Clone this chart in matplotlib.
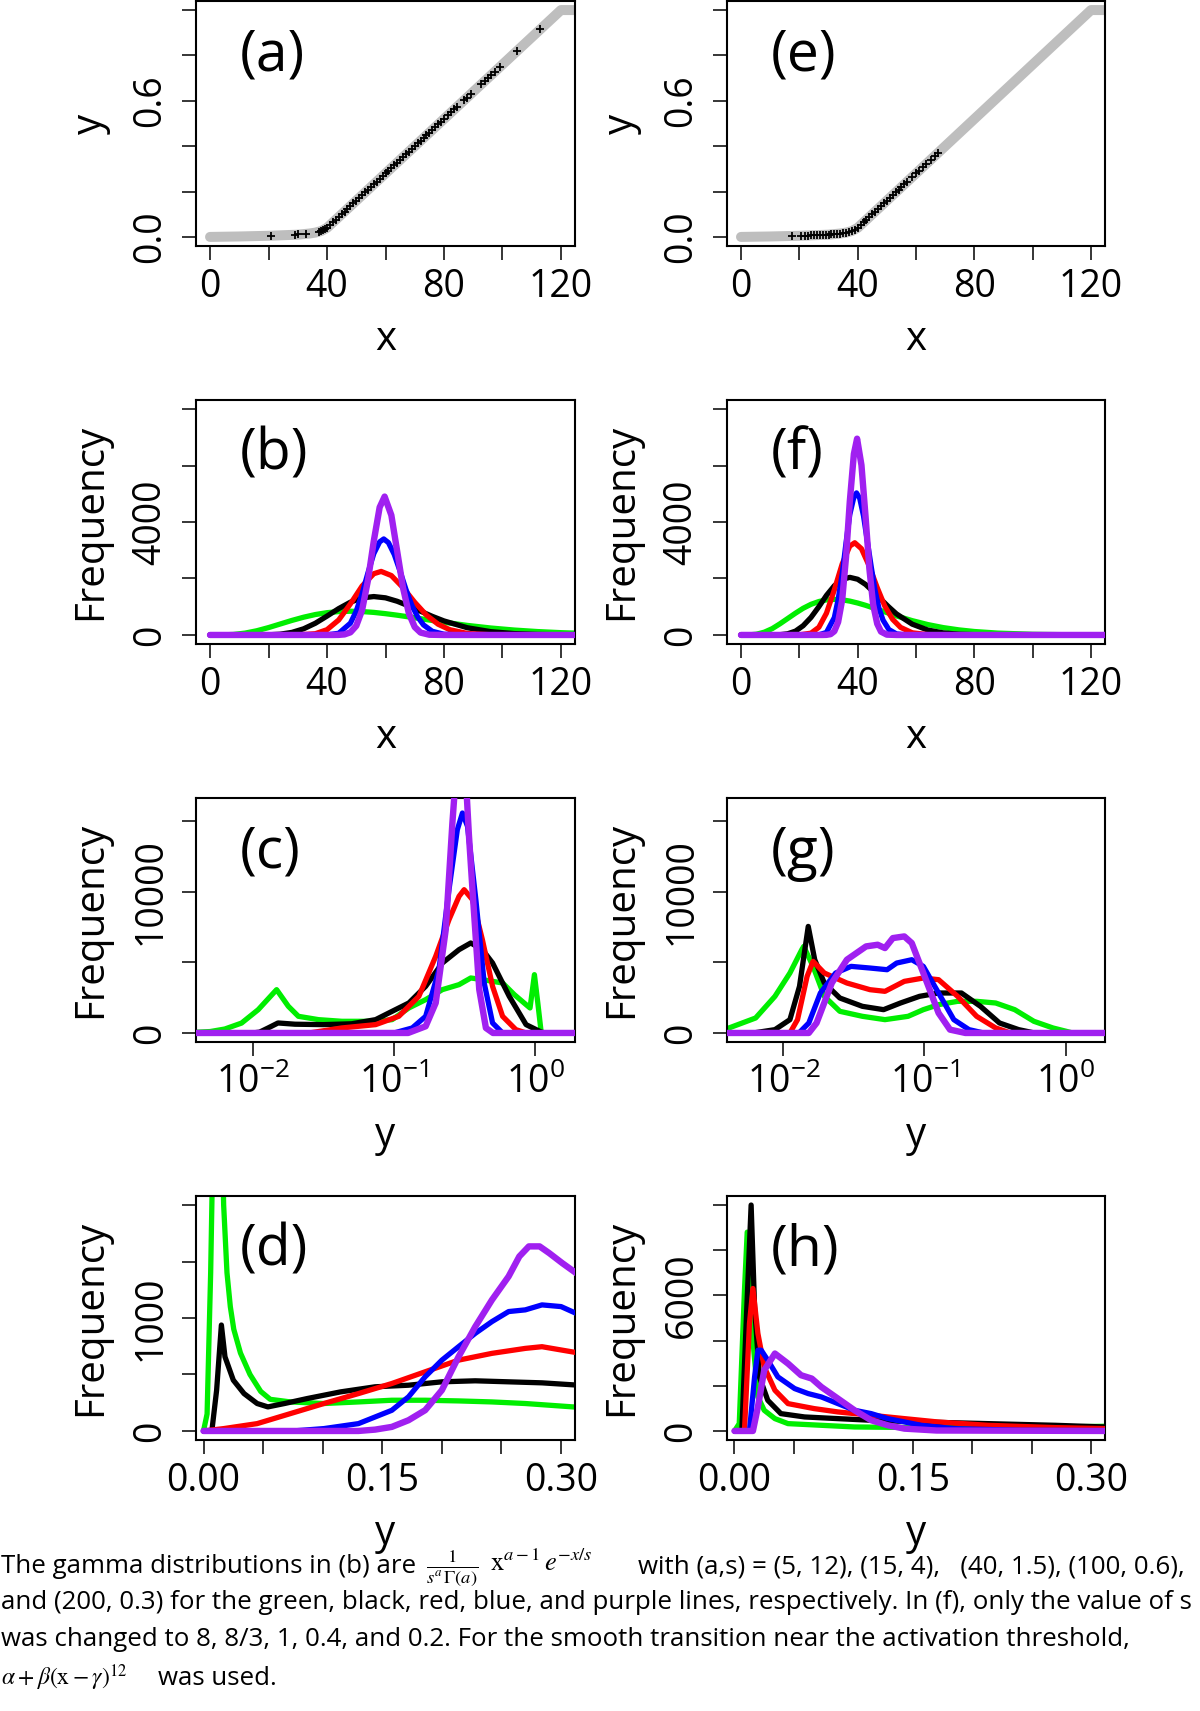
import numpy as np
import matplotlib
matplotlib.use("Agg")
import matplotlib.pyplot as plt
from matplotlib.ticker import FixedLocator, NullLocator

plt.rcParams['font.family'] = ['Open Sans', 'DejaVu Sans']
plt.rcParams['mathtext.fontset'] = 'custom'
plt.rcParams['mathtext.rm'] = 'Open Sans'
plt.rcParams['mathtext.it'] = 'Open Sans:italic'
plt.rcParams['mathtext.bf'] = 'Open Sans:bold'

# ---------------- data ----------------
series_names = ['green', 'black', 'red', 'blue', 'purple']
series_colors = ['#00EE00', '#000000', '#FF0000', '#0000FF', '#A020F0']

# activation function (panels a, e)
act_x = [0, 10, 20, 30, 34, 36, 38, 40, 42, 50, 60, 70, 80, 90, 100, 110, 120, 127]
act_y = [0.000, 0.002, 0.005, 0.010, 0.015, 0.019, 0.026, 0.040, 0.064, 0.160, 0.280,
         0.400, 0.520, 0.640, 0.760, 0.880, 1.000, 1.000]

a_pts_x = [21, 28.9, 30.2, 32.9, 37.2, 37.8, 38.5, 39.2,
           40, 41, 42, 43, 44, 45, 46, 47, 48, 49, 50, 51, 52, 53, 54, 55, 56, 57, 58, 59, 60,
           61, 62, 63, 64, 65, 66, 67, 68, 69, 70, 71, 72, 73, 74, 75, 76, 77, 78, 79, 80,
           81.5, 82.5, 83.5, 84.5, 86.8, 87.8, 89.2, 92.8, 94, 95, 96.2, 97.4, 99, 105, 113]
a_pts_y = [0.006, 0.010, 0.011, 0.014, 0.023, 0.025, 0.029, 0.034,
           0.040, 0.052, 0.064, 0.076, 0.088, 0.100, 0.112, 0.124, 0.136, 0.148, 0.160, 0.172,
           0.184, 0.196, 0.208, 0.220, 0.232, 0.244, 0.256, 0.268, 0.280,
           0.292, 0.304, 0.316, 0.328, 0.340, 0.352, 0.364, 0.376, 0.388, 0.400, 0.412, 0.424,
           0.436, 0.448, 0.460, 0.472, 0.484, 0.496, 0.508, 0.520,
           0.538, 0.550, 0.562, 0.574, 0.602, 0.614, 0.630, 0.674, 0.688, 0.700, 0.714, 0.729,
           0.748, 0.820, 0.916]

e_pts_x = [17.5, 20.5, 22, 23, 24, 25, 26, 27, 28, 29, 30, 31, 32, 33, 34, 35, 36, 37, 38, 39,
           40, 41, 42, 43, 44, 45, 46, 47, 48, 49, 50, 51, 52, 53, 54, 55,
           56, 57, 58.5, 60, 61, 62.5, 63.5, 65, 66.5, 67.5]
e_pts_y = [0.004, 0.005, 0.006, 0.006, 0.007, 0.007, 0.008, 0.008, 0.009, 0.009, 0.010, 0.011,
           0.012, 0.013, 0.015, 0.017, 0.019, 0.022, 0.026, 0.032,
           0.040, 0.052, 0.064, 0.076, 0.088, 0.100, 0.112, 0.124, 0.136, 0.148, 0.160, 0.172,
           0.184, 0.196, 0.208, 0.220,
           0.232, 0.244, 0.262, 0.280, 0.292, 0.310, 0.322, 0.340, 0.358, 0.370]

# panel (b): frequency vs x
b_green_x = [0, 4, 8, 12, 16, 20, 24, 28, 32, 36, 40, 44, 48, 52, 56, 60, 64, 68, 72, 80, 88, 96, 104, 112, 120, 127]
b_green_f = [0, 2, 18, 66, 149, 261, 388, 515, 629, 723, 789, 828, 840, 829, 799, 754, 700, 639, 576, 450, 338, 246, 174, 120, 81, 58]
b_black_x = [0, 12, 16, 20, 24, 28, 32, 36, 40, 44, 48, 52, 56, 60, 64, 68, 72, 76, 80, 88, 96, 104, 112, 120, 127]
b_black_f = [0, 0, 1, 6, 28, 91, 218, 414, 668, 934, 1161, 1311, 1360, 1315, 1193, 1026, 840, 659, 497, 255, 117, 49, 18, 7, 3]
b_red_x = [0, 26, 30, 36, 40, 44, 48, 52, 56, 58.5, 62, 66, 70, 74, 78, 82, 88, 96, 104, 127]
b_red_f = [0, 0, 2, 44, 187, 531, 1101, 1733, 2169, 2250, 2104, 1676, 1155, 703, 380, 185, 53, 8, 1, 0]
b_blue_x = [0, 36, 40, 44, 48, 50, 52, 54, 56, 58, 59.4, 61, 63, 65, 67, 69, 71, 73, 76, 80, 85, 127]
b_blue_f = [0, 0, 4, 60, 417, 847, 1460, 2200, 2880, 3296, 3400, 3270, 2849, 2250, 1611, 1055, 639, 355, 130, 26, 3, 0]
b_purple_x = [0, 42, 44, 46, 48, 50, 52, 54, 56, 58, 59.7, 62, 64, 66, 68, 70, 72, 75, 80, 127]
b_purple_f = [0, 0, 3, 20, 93, 323, 882, 1935, 3330, 4520, 4900, 4240, 2960, 1665, 760, 280, 83, 8, 0, 0]

# panel (f)
f_green_x = [0, 2.7, 5.3, 8, 10.7, 13.3, 16, 18.7, 21.3, 24, 26.7, 29.3, 32, 34.7, 37.3, 40, 42.7, 45.3, 48, 53.3, 58.7, 64, 69.3, 74.7, 80, 88, 100, 112, 127]
f_green_f = [0, 3, 27, 99, 224, 392, 582, 773, 944, 1085, 1184, 1242, 1260, 1244, 1199, 1131, 1050, 959, 864, 675, 507, 369, 261, 180, 122, 66, 24, 8, 2]
f_black_x = [0, 8, 13.3, 16, 18.7, 21.3, 24, 26.7, 29.3, 32, 34.7, 37.3, 40, 42.7, 45.3, 48, 50.7, 53.3, 58.7, 64, 69.3, 74.7, 80, 90, 127]
f_black_f = [0, 0, 9, 42, 137, 327, 621, 1002, 1401, 1742, 1967, 2040, 1973, 1790, 1539, 1260, 989, 746, 383, 176, 74, 27, 11, 2, 0]
f_red_x = [0, 20, 24, 26.7, 29.3, 32, 34.7, 37.3, 39, 41.3, 44, 46.7, 49.3, 52, 54.7, 58.7, 64, 69.3, 127]
f_red_f = [0, 3, 64, 272, 771, 1598, 2516, 3149, 3265, 3054, 2433, 1677, 1021, 552, 269, 77, 12, 2, 0]
f_blue_x = [0, 24, 26.7, 29.3, 32, 33.3, 34.7, 36, 37.3, 38.7, 39.6, 40.7, 42, 43.3, 44.7, 46, 47.3, 48.7, 50.7, 53.3, 56.7, 127]
f_blue_f = [0, 0, 6, 89, 617, 1254, 2161, 3256, 4262, 4878, 5030, 4840, 4217, 3330, 2384, 1561, 946, 525, 192, 38, 4, 0]
f_purple_x = [0, 28, 29.3, 30.7, 32, 33.3, 34.7, 36, 37.3, 38.7, 39.8, 41.3, 42.7, 44, 45.3, 46.7, 48, 50, 53.3, 127]
f_purple_f = [0, 0, 4, 28, 132, 458, 1251, 2744, 4722, 6410, 6950, 6013, 4198, 2361, 1078, 397, 118, 11, 0, 0]

# panel (c): log10(y) positions and frequencies
c_green_lx = [-2.45, -2.30, -2.196, -2.078, -1.96, -1.83, -1.747, -1.676, -1.534, -1.368, -1.131, -1.013, -0.895, -0.776, -0.658, -0.54, -0.457, -0.375, -0.232, -0.149, -0.066, -0.038, -0.007, 0.017, 0.04, 0.06, 0.30]
c_green_f = [30, 100, 280, 700, 1650, 3068, 1888, 1180, 944, 826, 826, 944, 1770, 2360, 3068, 3422, 3894, 3776, 3540, 2714, 2006, 1770, 4130, 2124, 118, 0, 0]
c_black_lx = [-2.45, -2.0, -1.95, -1.89, -1.82, -1.70, -1.5, -1.3, -1.13, -1.013, -0.895, -0.776, -0.658, -0.54, -0.457, -0.375, -0.303, -0.185, -0.066, 0.03, 0.06, 0.30]
c_black_f = [0, 0, 60, 354, 708, 620, 590, 650, 944, 1534, 2124, 3304, 4956, 5900, 6372, 5900, 4956, 2596, 590, 118, 0, 0]
c_red_lx = [-2.45, -1.6, -1.37, -1.13, -0.966, -0.824, -0.705, -0.611, -0.54, -0.504, -0.445, -0.375, -0.303, -0.232, -0.138, -0.066, 0.30]
c_red_f = [0, 0, 354, 590, 1180, 2596, 5428, 8024, 9676, 10148, 9440, 6608, 3304, 1180, 236, 0, 0]
c_blue_lx = [-2.45, -1.0, -0.871, -0.776, -0.682, -0.611, -0.552, -0.516, -0.48, -0.421, -0.362, -0.303, -0.232, 0.30]
c_blue_f = [0, 0, 354, 1180, 4484, 10148, 14396, 15576, 14632, 9440, 3540, 708, 0, 0]
c_purple_lx = [-2.45, -0.9, -0.776, -0.705, -0.634, -0.587, -0.55, -0.528, -0.50, -0.47, -0.445, -0.397, -0.35, -0.30, 0.30]
c_purple_f = [0, 0, 472, 2124, 7316, 14868, 20000, 22000, 19500, 14000, 10148, 3068, 354, 0, 0]

# panel (g)
g_green_lx = [-2.45, -2.386, -2.197, -2.06, -1.954, -1.87, -1.856, -1.79, -1.71, -1.60, -1.44, -1.28, -1.116, -1.008, -0.9, -0.765, -0.63, -0.495, -0.36, -0.224, -0.089, 0.005, 0.05, 0.30]
g_green_f = [300, 354, 1061, 2594, 4244, 5895, 6130, 4716, 2594, 1533, 1179, 943, 1179, 1650, 2004, 2240, 2240, 2122, 1650, 825, 354, 118, 0, 0]
g_black_lx = [-2.45, -2.2, -2.06, -1.954, -1.886, -1.824, -1.778, -1.71, -1.60, -1.44, -1.29, -1.17, -1.035, -0.9, -0.738, -0.603, -0.468, -0.332, -0.22, 0.30]
g_black_f = [0, 20, 236, 943, 3301, 7546, 5188, 3537, 2476, 1886, 1650, 2122, 2594, 2830, 2830, 1886, 707, 236, 0, 0]
g_red_lx = [-2.45, -1.954, -1.9, -1.832, -1.79, -1.71, -1.55, -1.386, -1.28, -1.143, -1.008, -0.9, -0.765, -0.63, -0.495, -0.39, 0.30]
g_red_f = [0, 0, 943, 4009, 5070, 4244, 3537, 3065, 2948, 3655, 3891, 3773, 2594, 1179, 354, 0, 0]
g_blue_lx = [-2.45, -1.89, -1.82, -1.738, -1.63, -1.52, -1.386, -1.265, -1.197, -1.09, -1.008, -0.9, -0.792, -0.684, -0.58, 0.30]
g_blue_f = [0, 0, 707, 2830, 4244, 4716, 4598, 4480, 4952, 5188, 4716, 2830, 943, 236, 0, 0]
g_purple_lx = [-2.45, -1.82, -1.765, -1.657, -1.55, -1.414, -1.332, -1.28, -1.224, -1.143, -1.09, -1.008, -0.9, -0.819, -0.71, 0.30]
g_purple_f = [0, 0, 707, 3537, 5188, 6130, 6248, 6012, 6720, 6838, 6366, 4244, 1415, 236, 0, 0]

# panel (d): frequency vs y (linear)
d_green_y = [0, 0.003, 0.006, 0.008, 0.010, 0.012, 0.014, 0.0169, 0.0197, 0.0225, 0.0254, 0.031, 0.039, 0.048, 0.056, 0.073, 0.101, 0.13, 0.158, 0.186, 0.214, 0.242, 0.27, 0.31, 0.315]
d_green_f = [0, 150, 1400, 2600, 3600, 4000, 3500, 2000, 1400, 1100, 900, 690, 500, 350, 280, 257, 243, 257, 272, 272, 266, 257, 243, 213, 210]
d_black_y = [0, 0.007, 0.011, 0.015, 0.018, 0.025, 0.034, 0.045, 0.054, 0.068, 0.087, 0.115, 0.144, 0.172, 0.2, 0.228, 0.256, 0.284, 0.315]
d_black_f = [0, 0, 361, 938, 657, 450, 331, 243, 213, 243, 287, 346, 391, 405, 435, 444, 435, 426, 405]
d_red_y = [0, 0.017, 0.045, 0.073, 0.101, 0.13, 0.158, 0.186, 0.214, 0.242, 0.27, 0.284, 0.315]
d_red_f = [0, 21, 65, 154, 243, 331, 420, 524, 627, 687, 731, 746, 690]
d_blue_y = [0, 0.075, 0.101, 0.13, 0.158, 0.172, 0.186, 0.2, 0.214, 0.228, 0.242, 0.256, 0.27, 0.284, 0.3, 0.315]
d_blue_f = [0, 0, 21, 65, 183, 302, 480, 627, 746, 864, 968, 1057, 1072, 1116, 1101, 1030]
d_purple_y = [0, 0.13, 0.144, 0.158, 0.172, 0.186, 0.2, 0.214, 0.228, 0.242, 0.256, 0.265, 0.273, 0.282, 0.29, 0.301, 0.315]
d_purple_f = [0, 0, 12, 36, 95, 184, 361, 657, 923, 1160, 1368, 1545, 1634, 1634, 1575, 1486, 1380]

# panel (h)
h_green_y = [0, 0.004, 0.0084, 0.0107, 0.0155, 0.0197, 0.025, 0.034, 0.045, 0.073, 0.101, 0.157, 0.213, 0.27, 0.315]
h_green_f = [0, 325, 6233, 8800, 4017, 1506, 916, 546, 325, 251, 177, 148, 148, 177, 210]
h_black_y = [0, 0.0062, 0.0098, 0.014, 0.0169, 0.021, 0.028, 0.039, 0.059, 0.087, 0.115, 0.157, 0.213, 0.27, 0.315]
h_black_f = [0, 0, 4756, 10000, 5494, 2393, 1359, 768, 620, 546, 473, 399, 325, 251, 170]
h_red_y = [0, 0.0084, 0.0126, 0.0155, 0.0197, 0.025, 0.034, 0.045, 0.067, 0.087, 0.115, 0.143, 0.171, 0.213, 0.27, 0.315]
h_red_f = [0, 0, 4756, 6307, 4313, 2836, 1802, 1211, 990, 842, 694, 546, 399, 251, 148, 100]
h_blue_y = [0, 0.0126, 0.0169, 0.0197, 0.0225, 0.028, 0.0365, 0.0506, 0.062, 0.073, 0.087, 0.101, 0.115, 0.129, 0.157, 0.185, 0.24, 0.315]
h_blue_f = [0, 0, 2393, 3574, 3574, 3131, 2393, 1876, 1654, 1507, 1211, 916, 768, 546, 251, 103, 30, 15]
h_purple_y = [0, 0.0155, 0.0197, 0.025, 0.034, 0.045, 0.056, 0.065, 0.073, 0.087, 0.101, 0.115, 0.129, 0.143, 0.17, 0.315]
h_purple_f = [0, 0, 1063, 2688, 3427, 2984, 2467, 2319, 1950, 1433, 916, 473, 251, 103, 20, 0]

# tick labels
x_ticks_lin = [0, 20, 40, 60, 80, 100, 120]
x_labels_lin = ['0', '', '40', '', '80', '', '120']
y_ticks_a = [0, 0.2, 0.4, 0.6, 0.8, 1.0]
y_labels_a = ['0.0', '', '', '0.6', '', '']
y_ticks_b = [0, 2000, 4000, 6000, 8000]
y_labels_b = ['0', '', '4000', '', '']
x_ticks_log = [0.01, 0.1, 1.0]
x_labels_log = [r'$10^{-2}$', r'$10^{-1}$', r'$10^{0}$']
y_ticks_c = [0, 5000, 10000, 15000]
y_labels_c = ['0', '', '10000', '']
x_ticks_d = [0, 0.05, 0.10, 0.15, 0.20, 0.25, 0.30]
x_labels_d = ['0.00', '', '', '0.15', '', '', '0.30']
y_ticks_d = [0, 500, 1000, 1500, 2000]
y_labels_d = ['0', '', '1000', '', '']
y_ticks_h = [0, 2000, 4000, 6000, 8000, 10000]
y_labels_h = ['0', '', '', '6000', '', '']

# ---------------- layout ----------------
W, H = 1200, 1711
fig = plt.figure(figsize=(W / 100, H / 100), dpi=100)

cols = [(196, 575), (727, 1105)]
rows = [(1, 246), (400, 644), (798, 1042), (1196, 1440)]


def add_ax(col, row):
    l, r = cols[col]
    t, b = rows[row]
    ax = fig.add_axes([l / W, 1 - b / H, (r - l) / W, (b - t) / H])
    return ax, (r - l), (b - t)


def style(ax, wpx, hpx, xlim, ylim, xt, xl, yt, yl, xlabel, ylabel, tag, log=False):
    if log:
        ax.set_xscale('log')
    ax.set_xlim(*xlim)
    ax.set_ylim(*ylim)
    ax.xaxis.set_major_locator(FixedLocator(xt))
    ax.set_xticklabels(xl)
    ax.xaxis.set_minor_locator(NullLocator())
    ax.yaxis.set_major_locator(FixedLocator(yt))
    ax.set_yticklabels(yl)
    ax.yaxis.set_minor_locator(NullLocator())
    ax.tick_params(direction='out', length=10, width=1.1, labelsize=27, color='black')
    ax.tick_params(axis='x', pad=5.5)
    ax.tick_params(axis='y', pad=9, labelrotation=90)
    for lab in ax.get_yticklabels():
        lab.set_va('center')
    for s in ax.spines.values():
        s.set_linewidth(1.5)
    ax.text(0.5, -104 / hpx, xlabel, transform=ax.transAxes, ha='center', va='baseline', fontsize=29)
    ax.text(-95 / wpx, 0.5, ylabel, transform=ax.transAxes, ha='center', va='baseline',
            rotation=90, rotation_mode='anchor', fontsize=29)
    ax.text(44 / wpx, 1 - 55 / hpx, tag, transform=ax.transAxes, ha='left', va='center', fontsize=41)


def plot_five(ax, xs, fs, log=False):
    for i, (x, f) in enumerate(zip(xs, fs)):
        xv = np.power(10.0, np.array(x)) if log else np.array(x)
        lw = 4.6 if series_names[i] == 'purple' else 3.8
        ax.plot(xv, f, color=series_colors[i], lw=lw, solid_capstyle='round',
                solid_joinstyle='round', zorder=2 + i)


xlim_lin = (-4.8, 124.8)
xlim_log = (10 ** -2.40, 10 ** 0.28)
xlim_d = (-0.0063, 0.3117)

# (a) and (e)
for col, (px, py, tag) in enumerate([(a_pts_x, a_pts_y, '(a)'), (e_pts_x, e_pts_y, '(e)')]):
    ax, wpx, hpx = add_ax(col, 0)
    ax.plot(act_x, act_y, color='#BEBEBE', lw=7.2, solid_capstyle='round', zorder=2)
    ax.plot(px, py, linestyle='none', marker='+', color='black', markersize=5.5, mew=1.3, zorder=3)
    style(ax, wpx, hpx, xlim_lin, (-0.04, 1.04), x_ticks_lin, x_labels_lin,
          y_ticks_a, y_labels_a, 'x', 'y', tag)

# (b) and (f)
ax, wpx, hpx = add_ax(0, 1)
plot_five(ax, [b_green_x, b_black_x, b_red_x, b_blue_x, b_purple_x],
          [b_green_f, b_black_f, b_red_f, b_blue_f, b_purple_f])
style(ax, wpx, hpx, xlim_lin, (-320, 8320), x_ticks_lin, x_labels_lin, y_ticks_b, y_labels_b,
      'x', 'Frequency', '(b)')

ax, wpx, hpx = add_ax(1, 1)
plot_five(ax, [f_green_x, f_black_x, f_red_x, f_blue_x, f_purple_x],
          [f_green_f, f_black_f, f_red_f, f_blue_f, f_purple_f])
style(ax, wpx, hpx, xlim_lin, (-320, 8320), x_ticks_lin, x_labels_lin, y_ticks_b, y_labels_b,
      'x', 'Frequency', '(f)')

# (c) and (g)
ax, wpx, hpx = add_ax(0, 2)
plot_five(ax, [c_green_lx, c_black_lx, c_red_lx, c_blue_lx, c_purple_lx],
          [c_green_f, c_black_f, c_red_f, c_blue_f, c_purple_f], log=True)
style(ax, wpx, hpx, xlim_log, (-640, 16640), x_ticks_log, x_labels_log, y_ticks_c, y_labels_c,
      'y', 'Frequency', '(c)', log=True)

ax, wpx, hpx = add_ax(1, 2)
plot_five(ax, [g_green_lx, g_black_lx, g_red_lx, g_blue_lx, g_purple_lx],
          [g_green_f, g_black_f, g_red_f, g_blue_f, g_purple_f], log=True)
style(ax, wpx, hpx, xlim_log, (-640, 16640), x_ticks_log, x_labels_log, y_ticks_c, y_labels_c,
      'y', 'Frequency', '(g)', log=True)

# (d) and (h)
ax, wpx, hpx = add_ax(0, 3)
plot_five(ax, [d_green_y, d_black_y, d_red_y, d_blue_y, d_purple_y],
          [d_green_f, d_black_f, d_red_f, d_blue_f, d_purple_f])
style(ax, wpx, hpx, xlim_d, (-80, 2080), x_ticks_d, x_labels_d, y_ticks_d, y_labels_d,
      'y', 'Frequency', '(d)')

ax, wpx, hpx = add_ax(1, 3)
plot_five(ax, [h_green_y, h_black_y, h_red_y, h_blue_y, h_purple_y],
          [h_green_f, h_black_f, h_red_f, h_blue_f, h_purple_f])
style(ax, wpx, hpx, xlim_d, (-400, 10400), x_ticks_d, x_labels_d, y_ticks_h, y_labels_h,
      'y', 'Frequency', '(h)')

# ---------------- caption ----------------
cap_fs = 18.6


def ctext(xp, yp, s, **kw):
    fig.text(xp / W, 1 - yp / H, s, ha='left', va='baseline', **kw)


ctext(1, 1573, 'The gamma distributions in (b) are', fontsize=cap_fs)
ctext(426, 1573, r'$\frac{1}{s^{a}\,\Gamma(a)}$', fontsize=19, math_fontfamily='stix')
ctext(490, 1571, r'$\mathrm{x}^{a-1}\,e^{-x/s}$', fontsize=19, math_fontfamily='stix')
ctext(638, 1573, 'with (a,s) = (5, 12), (15, 4),   (40, 1.5), (100, 0.6),', fontsize=cap_fs)
ctext(1, 1609, 'and (200, 0.3) for the green, black, red, blue, and purple lines, respectively. '
      'In (f), only the value of s', fontsize=cap_fs)
ctext(1, 1646, 'was changed to 8, 8/3, 1, 0.4, and 0.2. For the smooth transition near the '
      'activation threshold,', fontsize=cap_fs)
ctext(1, 1685, r'$\alpha + \beta(\mathrm{x} - \gamma)^{12}$', fontsize=17, math_fontfamily='stix')
ctext(158, 1685, 'was used.', fontsize=cap_fs)

fig.savefig('out.png', dpi=100)
